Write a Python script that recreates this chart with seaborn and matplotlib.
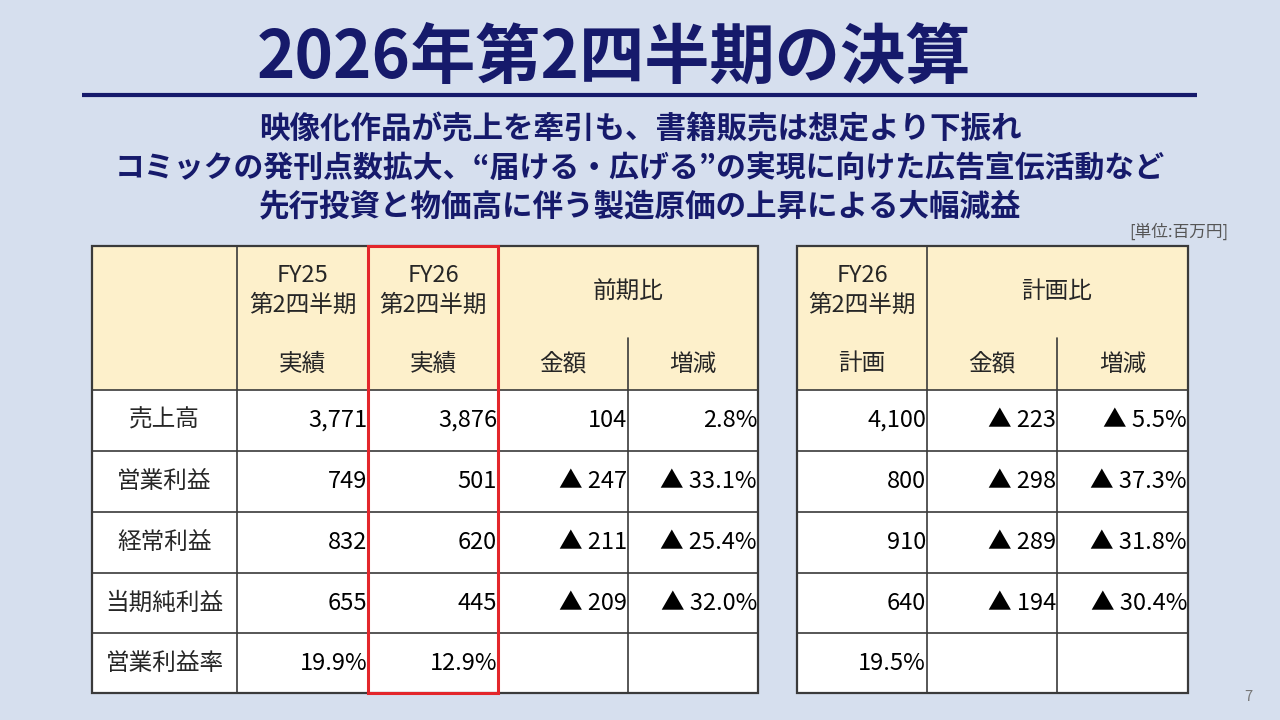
import matplotlib
matplotlib.use("Agg")
import matplotlib.pyplot as plt
from matplotlib.patches import Rectangle
import seaborn as sns

# Table data (unit: million yen)
row_labels = ['売上高', '営業利益', '経常利益', '当期純利益', '営業利益率']
fy25_actual = [3771, 749, 832, 655]
fy26_actual = [3876, 501, 620, 445]
yoy_amount = [104, -247, -211, -209]
yoy_pct = [2.8, -33.1, -25.4, -32.0]
fy26_plan = [4100, 800, 910, 640]
plan_amount = [-223, -298, -289, -194]
plan_pct = [-5.5, -37.3, -31.8, -30.4]
margin_fy25, margin_fy26, margin_plan = 19.9, 12.9, 19.5

title = '2026年第2四半期の決算'
subtitle = ['映像化作品が売上を牽引も、書籍販売は想定より下振れ',
            'コミックの発刊点数拡大、“届ける・広げる”の実現に向けた広告宣伝活動など',
            '先行投資と物価高に伴う製造原価の上昇による大幅減益']

sns.set_theme(style='white')
plt.rcParams['font.family'] = ['Noto Sans CJK JP', 'DejaVu Sans']

NAVY = '#161a6b'
BG = '#d6dfee'
HEAD = '#fdf0cb'
LINE = '#3a3a3a'


def fmt_num(v):
    return f'▲ {abs(v):,}' if v < 0 else f'{v:,}'


def fmt_pct(v):
    return f'▲ {abs(v):.1f}%' if v < 0 else f'{v:.1f}%'


fig = plt.figure(figsize=(12.8, 7.2), dpi=100, facecolor=BG)
ax = fig.add_axes([0, 0, 1, 1])
ax.set_xlim(0, 1280)
ax.set_ylim(720, 0)
ax.axis('off')
ax.set_facecolor(BG)

# title + rule
ax.text(614, 58, title, ha='center', va='center', fontsize=47,
        fontweight='bold', color=NAVY)
ax.plot([82, 1197], [95, 95], color=NAVY, lw=3, solid_capstyle='butt')
sub_sizes = [22, 21.5, 22]
for i, line in enumerate(subtitle):
    ax.text(640, 129 + i * 39, line, ha='center', va='center',
            fontsize=sub_sizes[i], fontweight='bold', color=NAVY)
ax.text(1228, 232, '[単位:百万円]', ha='right', va='center', fontsize=12,
        color='#555555')
ax.text(1252, 697, '7', ha='right', va='center', fontsize=10.5, color='#777777')

# grid geometry
row_y = [246, 390, 451, 512, 573, 633, 693]
sub_y = 338
left_x = [92, 237, 368, 498, 628, 758]
right_x = [797, 927, 1057, 1188]
FS = 17


def draw_table(xs):
    x0, x1 = xs[0], xs[-1]
    ax.add_patch(Rectangle((x0, row_y[0]), x1 - x0, row_y[1] - row_y[0],
                           facecolor=HEAD, edgecolor='none', zorder=1))
    ax.add_patch(Rectangle((x0, row_y[1]), x1 - x0, row_y[-1] - row_y[1],
                           facecolor='white', edgecolor='none', zorder=1))
    for y in row_y[1:-1]:
        ax.plot([x0, x1], [y, y], color=LINE, lw=1.2, zorder=2)
    # vertical lines: last pair split only below the sub-header
    for x in xs[1:-2]:
        ax.plot([x, x], [row_y[0], row_y[-1]], color=LINE, lw=1.2, zorder=2)
    ax.plot([xs[-2], xs[-2]], [sub_y, row_y[-1]], color=LINE, lw=1.2, zorder=2)
    ax.add_patch(Rectangle((x0, row_y[0]), x1 - x0, row_y[-1] - row_y[0],
                           facecolor='none', edgecolor=LINE, lw=1.6, zorder=3))


def cell_text(x_right, yi, s):
    yc = (row_y[yi] + row_y[yi + 1]) / 2
    ax.text(x_right - 1, yc, s, ha='right', va='center', fontsize=FS,
            color='black', zorder=4)


draw_table(left_x)
draw_table(right_x)

# header texts
for xa, xb, top in [(237, 368, 'FY25'), (368, 498, 'FY26'), (797, 927, 'FY26')]:
    xc = (xa + xb) / 2
    ax.text(xc, 276, top, ha='center', va='center', fontsize=FS, zorder=4)
    ax.text(xc, 305, '第2四半期', ha='center', va='center', fontsize=FS, zorder=4)
for xa, xb, lab in [(237, 368, '実績'), (368, 498, '実績'), (797, 927, '計画'),
                    (498, 628, '金額'), (628, 758, '増減'),
                    (927, 1057, '金額'), (1057, 1188, '増減')]:
    ax.text((xa + xb) / 2, 364, lab, ha='center', va='center', fontsize=FS, zorder=4)
ax.text(628, 292, '前期比', ha='center', va='center', fontsize=FS, zorder=4)
ax.text(1057, 292, '計画比', ha='center', va='center', fontsize=FS, zorder=4)

# body
for i, lab in enumerate(row_labels):
    yc = (row_y[i + 1] + row_y[i + 2]) / 2
    ax.text(164.5, yc, lab, ha='center', va='center', fontsize=FS, zorder=4)

for i in range(4):
    cell_text(368, i + 1, fmt_num(fy25_actual[i]))
    cell_text(498, i + 1, fmt_num(fy26_actual[i]))
    cell_text(628, i + 1, fmt_num(yoy_amount[i]))
    cell_text(758, i + 1, fmt_pct(yoy_pct[i]))
    cell_text(927, i + 1, fmt_num(fy26_plan[i]))
    cell_text(1057, i + 1, fmt_num(plan_amount[i]))
    cell_text(1188, i + 1, fmt_pct(plan_pct[i]))
cell_text(368, 5, f'{margin_fy25:.1f}%')
cell_text(498, 5, f'{margin_fy26:.1f}%')
cell_text(927, 5, f'{margin_plan:.1f}%')

# red highlight around FY26 actual column
ax.add_patch(Rectangle((368, row_y[0]), 130, row_y[-1] - row_y[0],
                       facecolor='none', edgecolor='#e3262b', lw=2.2, zorder=5))

fig.savefig('out.png', dpi=100, facecolor=BG)
